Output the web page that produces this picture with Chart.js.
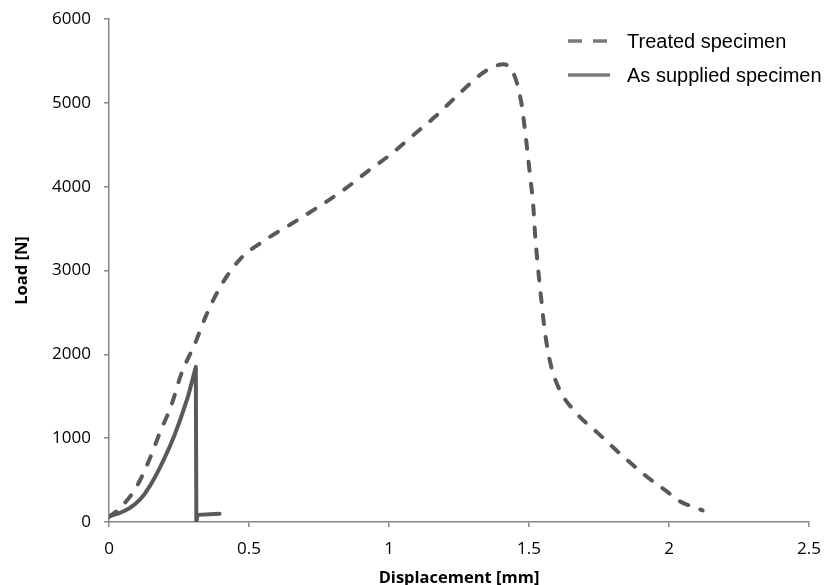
<!DOCTYPE html>
<html>
<head>
<meta charset="utf-8">
<script src="https://cdn.jsdelivr.net/npm/chart.js@4/dist/chart.umd.min.js"></script>
<style>
  html, body { margin: 0; padding: 0; background: #fff; }
  #wrap { width: 824px; height: 585px; }
</style>
</head>
<body>
<div id="wrap"><canvas id="chart"></canvas></div>
<script>
// displacement [mm] / load [N]
var treatedX = [0, 0.026, 0.092, 0.139, 0.181, 0.223, 0.259, 0.306, 0.35, 0.401, 0.467, 0.556, 0.649,
  0.744, 0.836, 0.925, 1.009, 1.085, 1.163, 1.245, 1.33, 1.38, 1.41, 1.44, 1.46, 1.475, 1.49, 1.503,
  1.515, 1.522, 1.532, 1.544, 1.556, 1.574, 1.604, 1.669, 1.746, 1.83, 1.92, 2.0, 2.04, 2.1, 2.12];
var treatedY = [60, 126, 385, 702, 1060, 1396, 1774, 2120, 2488, 2825, 3131, 3361, 3551,
  3750, 3956, 4186, 4393, 4610, 4830, 5090, 5345, 5440, 5460, 5380, 5200, 4950, 4550, 4155,
  3780, 3420, 3040, 2650, 2290, 1930, 1615, 1300, 1060, 800, 543, 345, 245, 165, 138];

var suppliedX = [0, 0.02, 0.038, 0.056, 0.074, 0.092, 0.11, 0.128, 0.145, 0.163, 0.181, 0.199, 0.217,
  0.235, 0.252, 0.267, 0.282, 0.296, 0.31, 0.312, 0.316, 0.395];
var suppliedY = [67, 88, 107, 134, 167, 210, 265, 338, 424, 528, 643, 768, 900,
  1045, 1198, 1345, 1495, 1670, 1850, 0, 85, 99];

var seriesNames = ['Treated specimen', 'As supplied specimen'];

var xTicks = [0, 0.5, 1, 1.5, 2, 2.5];
var yTicks = [0, 1000, 2000, 3000, 4000, 5000, 6000];

var lineColor = '#595959';
var axisColor = '#868686';

function toPoints(xs, ys) {
  return xs.map(function (x, i) { return { x: x, y: ys[i] }; });
}

// legend drawn by hand so the dashed sample looks like the original
var lineLegend = {
  id: 'lineLegend',
  afterDraw: function (chart) {
    var ctx = chart.ctx;
    var rows = [41, 75];
    ctx.save();
    chart.data.datasets.forEach(function (ds, i) {
      var y = rows[i];
      ctx.beginPath();
      ctx.strokeStyle = '#7a7a7a';
      ctx.lineWidth = 3.5;
      ctx.lineCap = 'butt';
      ctx.setLineDash(ds.borderDash && ds.borderDash.length ? [14, 11] : []);
      ctx.moveTo(568, y);
      ctx.lineTo(610, y);
      ctx.stroke();
      ctx.setLineDash([]);
      ctx.fillStyle = '#000';
      ctx.font = '20px "Liberation Sans", Arial, sans-serif';
      ctx.textBaseline = 'middle';
      ctx.fillText(ds.label, 627, y + 1);
    });
    ctx.restore();
  }
};

var ctx = document.getElementById('chart').getContext('2d');
var chart = new Chart(ctx, {
  type: 'line',
  data: {
    datasets: [
      {
        label: seriesNames[0],
        data: toPoints(treatedX, treatedY),
        borderColor: lineColor,
        borderWidth: 4,
        borderDash: [9, 13],
        borderCapStyle: 'round',
        pointRadius: 0,
        cubicInterpolationMode: 'monotone',
        fill: false
      },
      {
        label: seriesNames[1],
        data: toPoints(suppliedX, suppliedY),
        borderColor: lineColor,
        borderWidth: 4,
        borderCapStyle: 'round',
        borderJoinStyle: 'round',
        pointRadius: 0,
        tension: 0,
        fill: false
      }
    ]
  },
  options: {
    responsive: true,
    maintainAspectRatio: false,
    animation: false,
    layout: { padding: { top: 19, right: 15, bottom: 0, left: 0 } },
    plugins: {
      legend: { display: false },
      tooltip: { enabled: false }
    },
    scales: {
      x: {
        type: 'linear',
        min: 0,
        max: 2.5,
        afterFit: function (scale) {
          scale.height = 63;
          scale.paddingLeft = 0;
          scale.paddingRight = 0;
        },
        afterBuildTicks: function (scale) {
          scale.ticks = xTicks.map(function (v) { return { value: v }; });
        },
        ticks: {
          color: '#000',
          padding: 12,
          font: { family: '"Open Sans", sans-serif', size: 17 },
          callback: function (v) { return String(v); }
        },
        grid: { drawOnChartArea: false, drawTicks: true, tickLength: 5, color: axisColor, tickColor: axisColor, lineWidth: 1.5 },
        border: { display: true, color: axisColor, width: 1.5 },
        title: {
          display: true,
          text: 'Displacement [mm]',
          color: '#000',
          padding: { top: 0, bottom: -2 },
          font: { family: '"Open Sans", sans-serif', size: 16.5, weight: 'bold', lineHeight: 1 }
        }
      },
      y: {
        type: 'linear',
        min: 0,
        max: 6000,
        afterFit: function (scale) {
          scale.width = 109;
          scale.paddingTop = 0;
          scale.paddingBottom = 0;
        },
        afterBuildTicks: function (scale) {
          scale.ticks = yTicks.map(function (v) { return { value: v }; });
        },
        ticks: {
          color: '#000',
          padding: 13,
          font: { family: '"Open Sans", sans-serif', size: 17 },
          callback: function (v) { return String(v); }
        },
        grid: { drawOnChartArea: false, drawTicks: true, tickLength: 5, color: axisColor, tickColor: axisColor, lineWidth: 1.5 },
        border: { display: true, color: axisColor, width: 1.5 },
        title: {
          display: true,
          text: 'Load [N]',
          color: '#000',
          padding: { top: 14, bottom: 0 },
          font: { family: '"Open Sans", sans-serif', size: 16.5, weight: 'bold', lineHeight: 1 }
        }
      }
    }
  },
  plugins: [lineLegend]
});
</script>
</body>
</html>
